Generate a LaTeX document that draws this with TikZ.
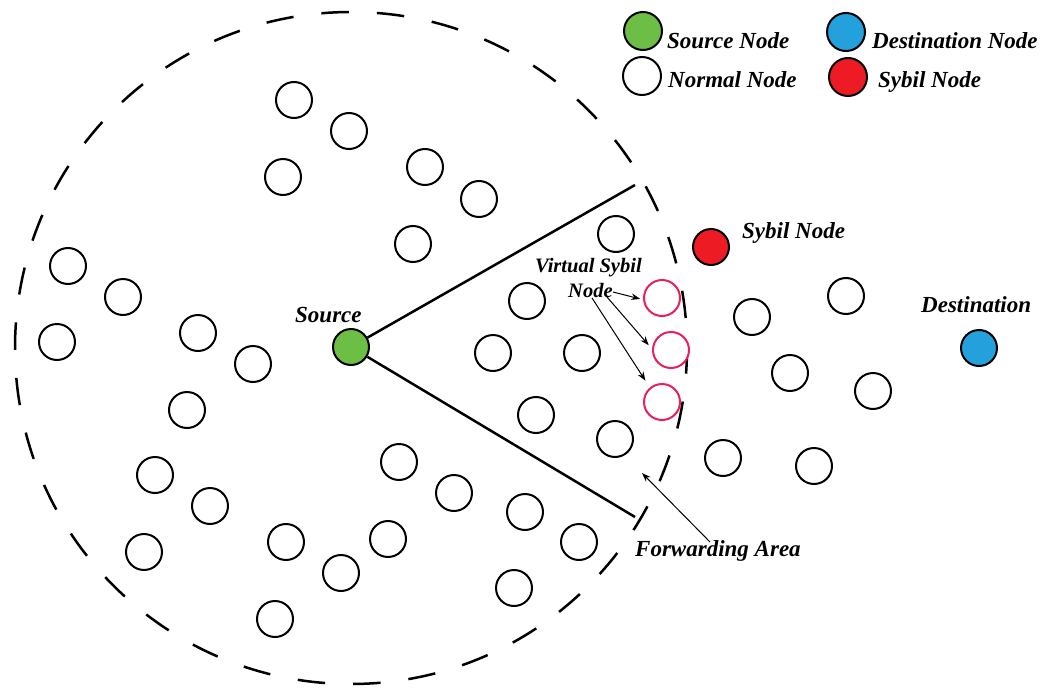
\documentclass[tikz,border=0pt]{standalone}
\usepackage{fontspec}
\setmainfont{Liberation Serif}
\usetikzlibrary{arrows.meta}
\definecolor{srcgreen}{RGB}{109,190,69}
\definecolor{dstblue}{RGB}{36,161,220}
\definecolor{sybred}{RGB}{237,28,36}
\definecolor{virtpink}{RGB}{232,32,92}
\begin{document}
\begin{tikzpicture}[x=1pt,y=-1pt,
  nd/.style={circle,draw=black,line width=2pt,minimum size=36pt,inner sep=0pt,fill=white},
  lgnd/.style={nd,minimum size=38pt},
  vnd/.style={nd,draw=virtpink},
  lbl/.style={font=\fontsize{23}{27}\selectfont\bfseries\itshape,inner sep=0pt,anchor=base west},
  slbl/.style={font=\fontsize{20.5}{24}\selectfont\bfseries\itshape,inner sep=0pt,anchor=base west},
  fwd/.style={line width=2.5pt},
  thinarrow/.style={line width=1pt,-{Stealth[length=9pt,width=6.5pt]}}]
\useasboundingbox[fill=white] (0,0) rectangle (1055,688);

% range circle
\draw[line width=2.5pt,dash pattern=on 27.5pt off 28.06pt,dash phase=25.56pt]
  (687,348) arc[start angle=0,end angle=-360,radius=336];

% forwarding area boundary
\coordinate (fu) at (635,185);
\coordinate (fl) at (635,517);
\node[nd,fill=srcgreen] (src) at (351,347) {};
\draw[fwd] (src) -- (fu);
\draw[fwd] (src) -- (fl);

% normal nodes
\node[nd] (n1) at (294,100) {};
\node[nd] (n2) at (349,131) {};
\node[nd] (n3) at (283,177) {};
\node[nd] (n4) at (425,167) {};
\node[nd] (n5) at (479,199) {};
\node[nd] (n6) at (413,244) {};
\node[nd] (n7) at (616,234) {};
\node[nd] (n8) at (68,266) {};
\node[nd] (n9) at (123,297) {};
\node[nd] (n10) at (57,342) {};
\node[nd] (n11) at (198,333) {};
\node[nd] (n12) at (253,364) {};
\node[nd] (n13) at (187,410) {};
\node[nd] (n14) at (527,301) {};
\node[nd] (n15) at (493,353) {};
\node[nd] (n16) at (582,353) {};
\node[nd] (n17) at (536,415) {};
\node[nd] (n18) at (615,439) {};
\node[nd] (n19) at (155,475) {};
\node[nd] (n20) at (210,506) {};
\node[nd] (n21) at (144,552) {};
\node[nd] (n22) at (286,542) {};
\node[nd] (n23) at (341,573) {};
\node[nd] (n24) at (388,539) {};
\node[nd] (n25) at (275,619) {};
\node[nd] (n26) at (399,462) {};
\node[nd] (n27) at (454,493) {};
\node[nd] (n28) at (525,512) {};
\node[nd] (n29) at (579,542) {};
\node[nd] (n30) at (514,588) {};
\node[nd] (n31) at (752,317) {};
\node[nd] (n32) at (846,296) {};
\node[nd] (n33) at (790,373) {};
\node[nd] (n34) at (873,391) {};
\node[nd] (n35) at (723,458) {};
\node[nd] (n36) at (814,466) {};

% special nodes
\node[nd,fill=sybred] (syb) at (711,247) {};
\node[nd,fill=dstblue] (dst) at (979,348) {};
\node[vnd] (p1) at (662,298) {};
\node[vnd] (p2) at (671,350) {};
\node[vnd] (p3) at (662,402) {};

% labels
\node[lbl] (srclbl) at (295,322) {Source};
\node[lbl] (syblbl) at (742,238) {Sybil Node};
\node[lbl] (dstlbl) at (921,312) {Destination};
\node[slbl] (vs1) at (535,272) {Virtual Sybil};
\node[slbl] (vs2) at (568,297) {Node};
\node[lbl] (fwdlbl) at (635,556) {Forwarding Area};

% virtual sybil arrows
\coordinate (a1) at (613,292);
\coordinate (a2) at (607,297);
\coordinate (a3) at (592,298);
\draw[thinarrow,shorten >=3pt] (a1) -- (p1.185);
\draw[thinarrow,shorten >=5pt] (a2) -- (p2.177);
\draw[thinarrow,shorten >=8pt] (a3) -- (p3.130);

% forwarding area arrow
\coordinate (fa1) at (710,542);
\coordinate (fa2) at (642,473);
\draw[thinarrow] (fa1) -- (fa2);

% legend
\node[lgnd,fill=srcgreen] (lg1) at (643,31) {};
\node[lgnd] (lg2) at (642,76) {};
\node[lgnd,fill=dstblue] (lg3) at (846,32) {};
\node[lgnd,fill=sybred] (lg4) at (848,77) {};
\node[lbl] (lt1) at (667,48) {Source Node};
\node[lbl] (lt2) at (668,87) {Normal Node};
\node[lbl] (lt3) at (872,48) {Destination Node};
\node[lbl] (lt4) at (878,87) {Sybil Node};
\end{tikzpicture}
\end{document}
